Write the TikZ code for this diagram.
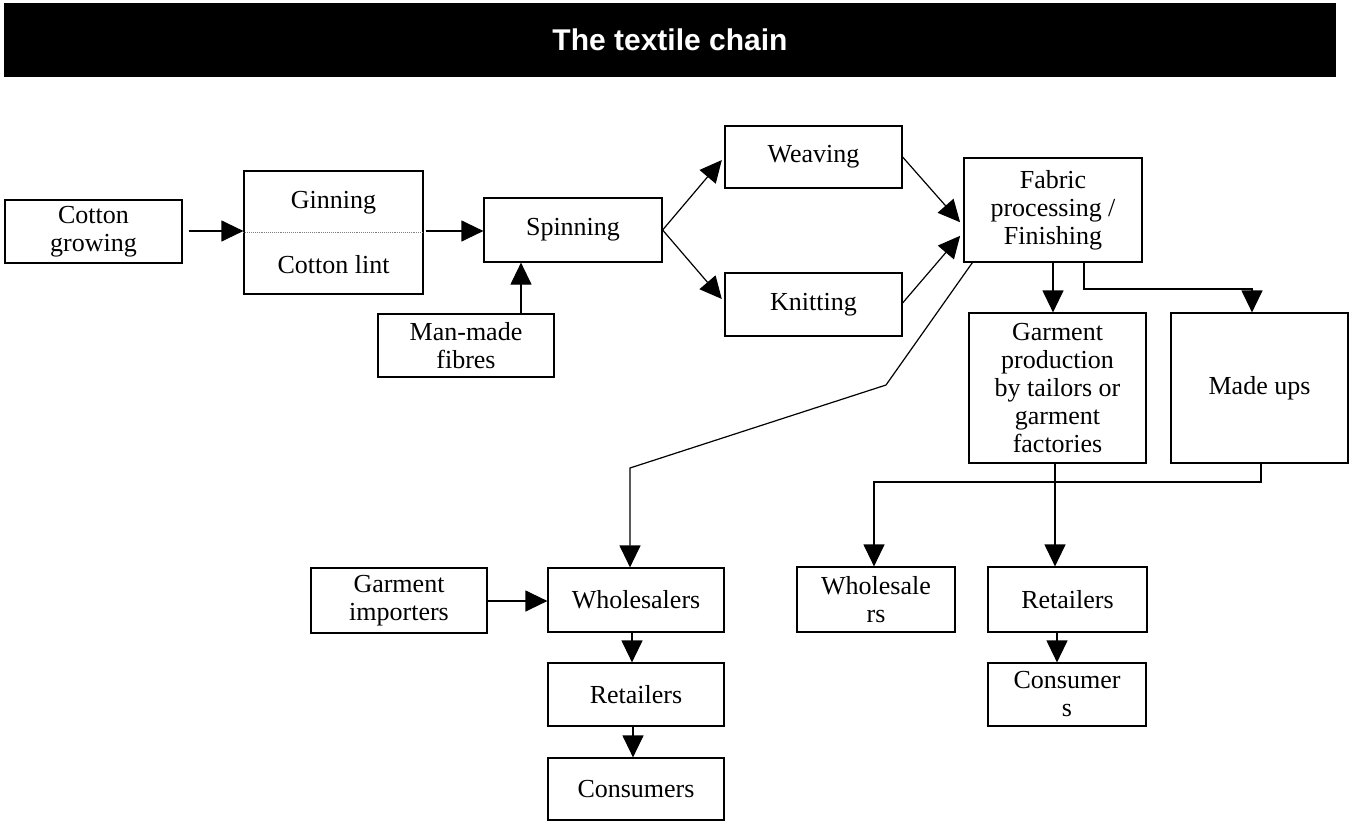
\documentclass[tikz,border=0pt]{standalone}
\usepackage{fontspec}
\setmainfont{Liberation Serif}
\newfontfamily\titlefont{Liberation Sans}
\usetikzlibrary{arrows.meta,calc}
\begin{document}
\begin{tikzpicture}[x=1pt,y=-1pt,
  box/.style={draw, line width=1.2pt, inner sep=0pt, align=center,
    font=\fontsize{26}{28}\selectfont},
  lbl/.style={inner sep=0pt, font=\fontsize{26}{28}\selectfont},
  arr/.style={draw, line width=1.2pt, -{Triangle[length=22pt,width=21pt]}},
  conn/.style={draw, line width=1.2pt}]
\useasboundingbox (0,0) rectangle (1355,822);

% title bar
\node[fill=black, minimum width=1332pt, minimum height=74pt, inner sep=0pt,
  text=white, font=\titlefont\bfseries\fontsize{30}{34}\selectfont]
  (title) at (670,40) {The textile chain};

% boxes
\node[box, minimum width=177pt, minimum height=63pt] (cg) at (93.5,231.5) {Cotton\\growing};
\node[box, minimum width=179pt, minimum height=123pt] (gin) at (333.5,232.5) {};
\node[lbl] (ginA) at (333.5,203) {Ginning};
\node[lbl] (ginB) at (333.5,265) {Cotton lint};
\draw[gray, line width=0.9pt, densely dotted] (gin.west |- 0,232) -- (gin.east |- 0,232);
\node[box, minimum width=176pt, minimum height=63pt] (mm) at (466,345.5) {Man-made\\fibres};
\node[box, minimum width=178pt, minimum height=64pt] (spin) at (573,230) {Spinning};
\node[box, minimum width=177pt, minimum height=62pt] (weav) at (813.5,157) {Weaving};
\node[box, minimum width=177pt, minimum height=63pt] (knit) at (813.5,304.5) {Knitting};
\node[box, minimum width=178pt, minimum height=104pt] (fab) at (1053,210) {Fabric\\processing /\\Finishing};
\node[box, minimum width=177pt, minimum height=150pt] (garm) at (1057.5,388) {Garment\\production\\by tailors or\\garment\\factories};
\node[box, minimum width=177pt, minimum height=150pt] (made) at (1259.5,388) {Made ups};
\node[box, minimum width=158pt, minimum height=65pt] (wR) at (876,599.5) {Wholesale\\rs};
\node[box, minimum width=159pt, minimum height=65pt] (rR) at (1067.5,599.5) {Retailers};
\node[box, minimum width=158pt, minimum height=63pt] (cR) at (1067,694.5) {Consumer\\s};
\node[box, minimum width=176pt, minimum height=65pt] (gi) at (399,600.5) {Garment\\importers};
\node[box, minimum width=176pt, minimum height=64pt] (wL) at (636,600) {Wholesalers};
\node[box, minimum width=176pt, minimum height=63pt] (rL) at (636,694.5) {Retailers};
\node[box, minimum width=176pt, minimum height=62pt] (cL) at (636,789) {Consumers};

% connectors
\draw[arr, shorten <=6pt] (cg.east |- 0,231) -- (gin.west |- 0,231);
\draw[arr, shorten <=2pt] (gin.east |- 0,231) -- (spin.west |- 0,231);
\draw[arr] (mm.north -| 521,0) -- (spin.south -| 521,0);
\draw[arr, shorten >=4pt] (spin.east) -- (weav.west);
\draw[arr, shorten >=4pt] (spin.east) -- (knit.west |- 0,302);
\draw[arr, shorten >=5pt] (weav.east) -- (fab.west |- 0,226);
\draw[arr, shorten >=5pt] (knit.east |- 0,303) -- (fab.west |- 0,232);
\coordinate (b1) at (886,385);
\coordinate (b2) at (630,468);
\draw[arr] ($(fab.south west)+(9,0)$) -- (b1) -- (b2) -- (wL.north -| b2);
\draw[arr] (fab.south) -- (fab.south |- garm.north);
\coordinate (m1) at (1084,289);
\coordinate (m2) at (1252,289);
\draw[arr] (fab.south -| m1) -- (m1) -- (m2) -- (made.north -| m2);
\coordinate (g1) at (1055,463);
\draw[arr] (garm.south -| g1) -- (rR.north -| g1);
\coordinate (d1) at (1261,482);
\coordinate (d2) at (874,482);
\draw[arr] (made.south -| d1) -- (d1) -- (d2) -- (wR.north -| d2);
\draw[arr] (rR.south -| 1057,0) -- (cR.north -| 1057,0);
\draw[arr] (gi.east |- 0,601) -- (wL.west |- 0,601);
\draw[arr] (wL.south -| 632,0) -- (rL.north -| 632,0);
\draw[arr] (rL.south -| 633,0) -- (cL.north -| 633,0);
\end{tikzpicture}
\end{document}
